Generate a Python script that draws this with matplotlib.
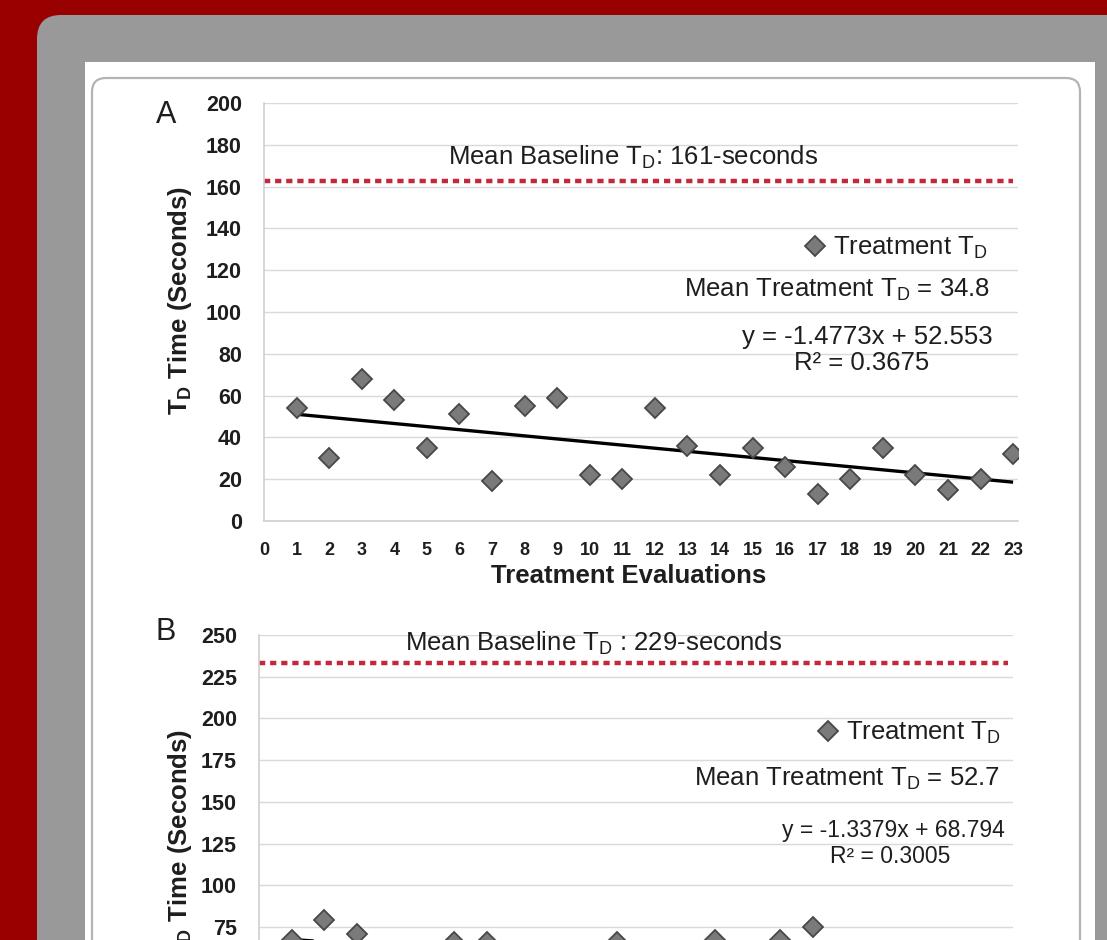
import matplotlib
matplotlib.use("Agg")
import matplotlib.pyplot as plt
from matplotlib.patches import FancyBboxPatch, Rectangle
import numpy as np

plt.rcParams['font.family'] = ['Liberation Sans', 'DejaVu Sans']
plt.rcParams['mathtext.fontset'] = 'custom'
plt.rcParams['mathtext.rm'] = 'Liberation Sans'
plt.rcParams['mathtext.bf'] = 'Liberation Sans:bold'
plt.rcParams['mathtext.it'] = 'Liberation Sans:italic'

# ---------------- data ----------------
evals_a = list(range(1, 24))
td_a = [54, 30, 68, 58, 35, 51, 19, 55, 59, 22, 20, 54, 36, 22, 35, 26, 13, 20, 35, 22, 15, 20, 32]
slope_a, intercept_a, r2_a = -1.4773, 52.553, 0.3675
mean_a = 34.8
baseline_a_text = 161
baseline_a_drawn = 162.5

evals_b = list(range(1, 24))
td_b = [67, 79, 71, 55, 48, 66, 66, 50, 44, 40, 66, 52, 45, 67, 38, 67, 75, 35, 42, 30, 38, 28, 32]
slope_b, intercept_b, r2_b = -1.3379, 68.794, 0.3005
mean_b = 52.7
baseline_b_text = 229
baseline_b_drawn = 233

xticks = list(range(0, 24))
yticks_a = list(range(0, 201, 20))
yticks_b = list(range(0, 251, 25))

# ---------------- figure & page background ----------------
W, H = 1107, 940
fig = plt.figure(figsize=(W / 100, H / 100), dpi=100)
fig.patch.set_facecolor('#990000')

bg = fig.add_axes([0, 0, 1, 1], zorder=-5)
bg.set_xlim(0, W)
bg.set_ylim(H, 0)
bg.axis('off')
bg.add_patch(FancyBboxPatch((37, 15), 1300, 1200, boxstyle="round,pad=0,rounding_size=24",
                            fc='#999999', ec='none'))
bg.add_patch(Rectangle((85, 62), 1010, 1200, fc='white', ec='none'))
bg.add_patch(FancyBboxPatch((92, 78), 988, 1200, boxstyle="round,pad=0,rounding_size=14",
                            fc='white', ec='#B4B4B4', lw=1.6))


def px_axes(left, right, top, bottom):
    return [left / W, (H - bottom) / H, (right - left) / W, (bottom - top) / H]


TXT = '#1E1E1E'
GRID = '#D9D9D9'
RED = '#C3283D'


def draw_panel(ax, x, y, slope, intercept, base_drawn, base_label, yticks, xmax,
               legend_pos, mean_label, mean_pos, eq_label, eq_pos, eq_size, r2_label, r2_pos,
               base_pos, ylabel_pos, xlabel=True):
    ax.set_xlim(0, xmax)
    ax.set_ylim(yticks[0], yticks[-1])
    ax.set_yticks(yticks)
    ax.set_xticks(xticks)
    ax.grid(axis='y', color=GRID, lw=1.0, zorder=0)
    ax.set_axisbelow(True)
    for s in ['top', 'right']:
        ax.spines[s].set_visible(False)
    for s in ['left', 'bottom']:
        ax.spines[s].set_color('#CFCFCF')
        ax.spines[s].set_linewidth(1.2)
    ax.tick_params(axis='y', length=0, pad=16, labelsize=15.5, labelcolor=TXT)
    ax.tick_params(axis='x', length=0, pad=15, labelsize=13, labelcolor=TXT,
                   labelbottom=xlabel)
    for lab in ax.get_xticklabels() + ax.get_yticklabels():
        lab.set_fontweight('bold')

    # baseline
    ax.hlines(base_drawn, 0, 23, colors=RED, lw=3.2, linestyles=(0, (1.4, 1.1)), zorder=2)
    ax.text(*base_pos, base_label, transform=ax.transAxes, ha='center', va='center',
            fontsize=18.5, color=TXT)

    # trend line
    xf = np.array([min(x), max(x)])
    ax.plot(xf, slope * xf + intercept, color='black', lw=2.4, zorder=3, solid_capstyle='butt')

    # data points
    h, = ax.plot(x, y, ls='none', marker='D', ms=10.5, mfc='#7A7A7A', mec='#474747', mew=1.3,
                 zorder=4, label='Treatment T$_{\\mathrm{D}}$')

    ax.legend(handles=[h], loc='center right', bbox_to_anchor=legend_pos, frameon=False,
              borderpad=0, borderaxespad=0, handlelength=0.9, handletextpad=0.25,
              fontsize=18.5, labelcolor=TXT)

    ax.text(*mean_pos, mean_label, transform=ax.transAxes, ha='right', va='center',
            fontsize=18.5, color=TXT)
    ax.text(*eq_pos, eq_label, transform=ax.transAxes, ha='right', va='center',
            fontsize=eq_size, color=TXT)
    ax.text(*r2_pos, r2_label, transform=ax.transAxes, ha='center', va='center',
            fontsize=eq_size, color=TXT)

    ax.set_ylabel('T$_{\\mathbf{D}}$ Time (Seconds)', fontsize=18.5, fontweight='bold', color=TXT)
    ax.yaxis.set_label_coords(*ylabel_pos)
    ax.yaxis.label.set_va('center')
    if xlabel:
        ax.set_xlabel('Treatment Evaluations', fontsize=18.5, fontweight='bold', color=TXT)


# ---------------- panel A ----------------
axA = fig.add_axes(px_axes(264, 1018, 103, 521))
draw_panel(axA, evals_a, td_a, slope_a, intercept_a, baseline_a_drawn,
           'Mean Baseline T$_{\\mathrm{D}}$: %d-seconds' % baseline_a_text, yticks_a, 23.15,
           legend_pos=(0.960, 0.653),
           mean_label='Mean Treatment T$_{\\mathrm{D}}$ = %.1f' % mean_a, mean_pos=(0.963, 0.553),
           eq_label='y = %.4fx + %.3f' % (slope_a, intercept_a), eq_pos=(0.967, 0.440), eq_size=18.5,
           r2_label='R² = %.4f' % r2_a, r2_pos=(0.793, 0.378),
           base_pos=(0.489, 0.871), ylabel_pos=(-0.1114, 0.529))
axA.xaxis.set_label_coords(0.483, -0.1316)
axA.xaxis.label.set_va('center')

# ---------------- panel B ----------------
axB = fig.add_axes(px_axes(259, 1013, 635, 1052))
draw_panel(axB, evals_b, td_b, slope_b, intercept_b, baseline_b_drawn,
           'Mean Baseline T$_{\\mathrm{D}}$ : %d-seconds' % baseline_b_text, yticks_b, 23.15,
           legend_pos=(0.983, 0.765),
           mean_label='Mean Treatment T$_{\\mathrm{D}}$ = %.1f' % mean_b, mean_pos=(0.983, 0.655),
           eq_label='y = %.4fx + %.3f' % (slope_b, intercept_b), eq_pos=(0.989, 0.530), eq_size=16.5,
           r2_label='R² = %.4f' % r2_b, r2_pos=(0.837, 0.468),
           base_pos=(0.444, 0.981), ylabel_pos=(-0.1048, 0.50), xlabel=False)

fig.text(166 / W, 1 - 115 / H, 'A', fontsize=22, ha='center', va='center', color=TXT)
fig.text(166 / W, 1 - 632 / H, 'B', fontsize=22, ha='center', va='center', color=TXT)

fig.savefig('out.png', dpi=100, facecolor=fig.get_facecolor())
